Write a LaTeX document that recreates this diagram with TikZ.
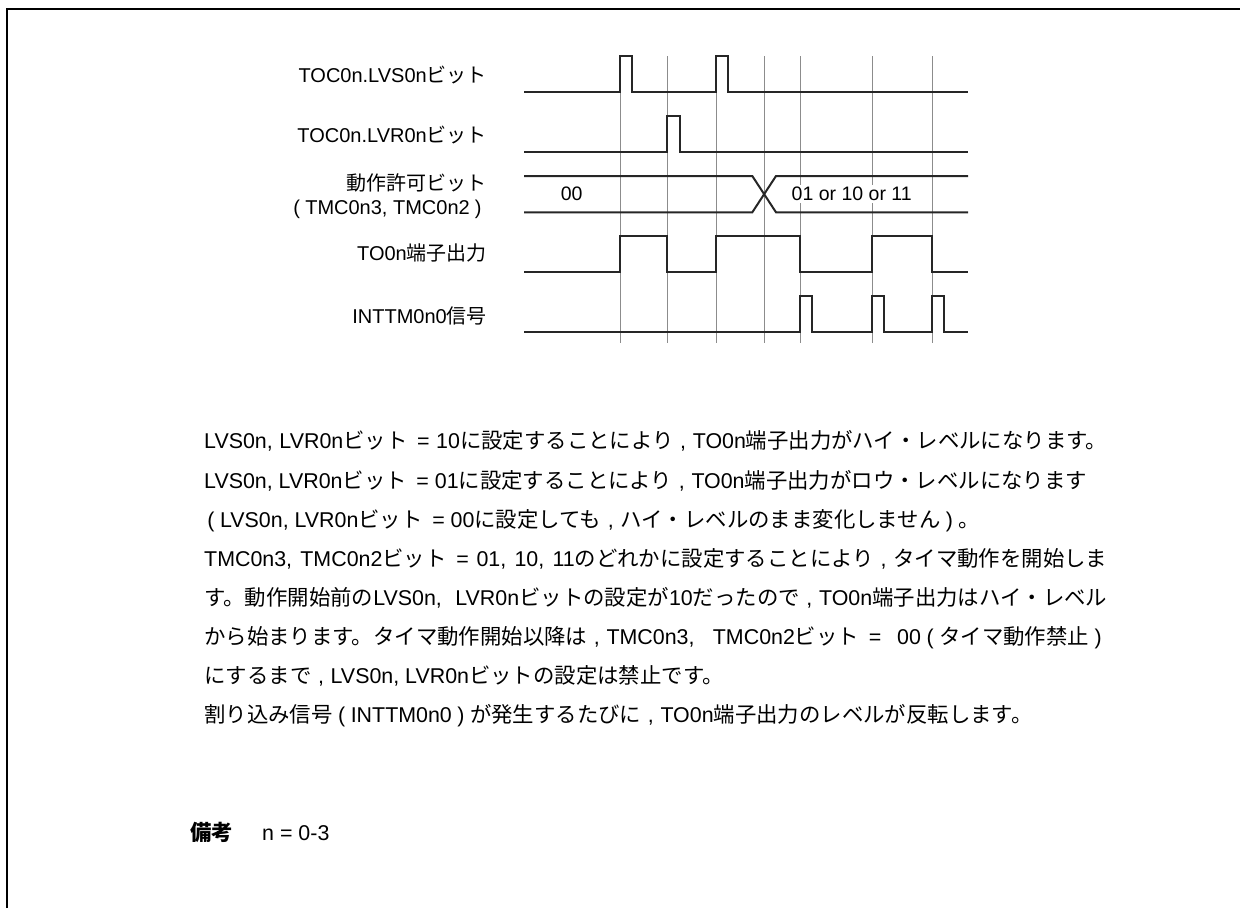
\documentclass[tikz,border=0pt]{standalone}
\usepackage{fontspec}
\setmainfont{Liberation Sans}
\newfontfamily\jpfont{Noto Sans CJK JP}
\newcommand\jt[1]{{\jpfont #1}}
\newcommand\lpar{\makebox[0.85em][c]{(}}
\newcommand\rpar{\makebox[0.85em][c]{)}}
\newcommand\fcomma{\makebox[0.9em][c]{,}}
\newcommand\bitgap{\jt{ビット}\hspace{0.45em}}
\begin{document}
\begin{tikzpicture}[x=1pt,y=-1pt,
  sig/.style={line width=2pt, draw=black!85, line join=miter},
  gridline/.style={line width=1pt, draw=black!45},
  lbl/.style={anchor=base east, inner sep=0pt, font=\fontsize{20}{22}\selectfont},
  body/.style={anchor=base west, inner sep=0pt, font=\fontsize{21.4}{24}\selectfont},
  frameline/.style={line width=2.5pt, draw=black}]
\useasboundingbox (0,0) rectangle (1240,908);
% frame
\draw[frameline] (7,908) -- (7,9) -- (1240,9);
% grid lines
\foreach \gx in {620,667.3,716,764.3,800,872,932}
  \draw[gridline] (\gx,56) -- (\gx,343);
% labels
\node[lbl] (l1) at (487,82) {TOC0n.LVS0n\jt{ビット}};
\node[lbl] (l2) at (487,142) {TOC0n.LVR0n\jt{ビット}};
\node[lbl] (l3a) at (487,190) {\jt{動作許可ビット}};
\node[lbl] (l3b) at (487,214) {\lpar TMC0n3, TMC0n2\rpar};
\node[lbl] (l4) at (487,260) {TO0n\jt{端子出力}};
\node[lbl] (l5) at (487,323) {INTTM0n0\jt{信号}};
% signals
\draw[sig] (524,92) -- (620,92) -- (620,56) -- (631.7,56) -- (631.7,92) -- (716,92) -- (716,56) -- (727.7,56) -- (727.7,92) -- (968,92);
\draw[sig] (524,152) -- (667.3,152) -- (667.3,116) -- (680,116) -- (680,152) -- (968,152);
\draw[sig] (524,176) -- (752.3,176) -- (776,212.3) -- (968,212.3);
\draw[sig] (524,212.3) -- (752.3,212.3) -- (776,176) -- (968,176);
\draw[sig] (524,272) -- (620,272) -- (620,236) -- (667.3,236) -- (667.3,272) -- (716,272) -- (716,236) -- (800,236) -- (800,272) -- (872,272) -- (872,236) -- (932,236) -- (932,272) -- (968,272);
\draw[sig] (524,332) -- (800,332) -- (800,296) -- (812.3,296) -- (812.3,332) -- (872,332) -- (872,296) -- (884.3,296) -- (884.3,332) -- (932,332) -- (932,296) -- (944,296) -- (944,332) -- (968,332);
\node[font=\fontsize{19.5}{22}\selectfont, inner sep=0pt] (v0) at (571.7,194) {00};
\node[font=\fontsize{19.5}{22}\selectfont, fill=white, inner sep=2pt] (v1) at (851.7,194) {01 or 10 or 11};
% body text
\node[body] (t1) at (204,448.5) {\makebox[903pt][s]{LVS0n, LVR0n\bitgap= 10\jt{に設定することにより}\fcomma TO0n\jt{端子出力がハイ・レベルになります。}}};
\node[body] (t2) at (204,488.5) {LVS0n, LVR0n\bitgap= 01\jt{に設定することにより}\fcomma TO0n\jt{端子出力がロウ・レベルになります}};
\node[body] (t3) at (201.7,527.5) {\lpar LVS0n, LVR0n\bitgap= 00\jt{に設定しても}\fcomma\jt{ハイ・レベルのまま変化しません}\rpar\jt{。}};
\node[body] (t4) at (204,566.5) {\makebox[903pt][s]{TMC0n3, TMC0n2\bitgap= 01, 10, 11\jt{のどれかに設定することにより}\fcomma\jt{タイマ動作を開始しま}}};
\node[body] (t5) at (204,605.5) {\makebox[903pt][s]{\jt{す。動作開始前の}LVS0n, LVR0n\jt{ビットの設定が}10\jt{だったので}\fcomma TO0n\jt{端子出力はハイ・レベル}}};
\node[body] (t6) at (204,644.5) {\makebox[903pt][s]{\jt{から始まります。タイマ動作開始以降は}\fcomma TMC0n3, TMC0n2\bitgap= 00\lpar\jt{タイマ動作禁止}\rpar}};
\node[body] (t7) at (204,683.5) {\jt{にするまで}\fcomma LVS0n, LVR0n\jt{ビットの設定は禁止です。}};
\node[body] (t8) at (204,722.5) {\jt{割り込み信号}\lpar INTTM0n0\rpar\jt{が発生するたびに}\fcomma TO0n\jt{端子出力のレベルが反転します。}};
\node[body] (n1) at (190,840.5) {{\jpfont\bfseries 備考}};
\node[body] (n2) at (262,840.5) {n = 0-3};
\end{tikzpicture}
\end{document}
